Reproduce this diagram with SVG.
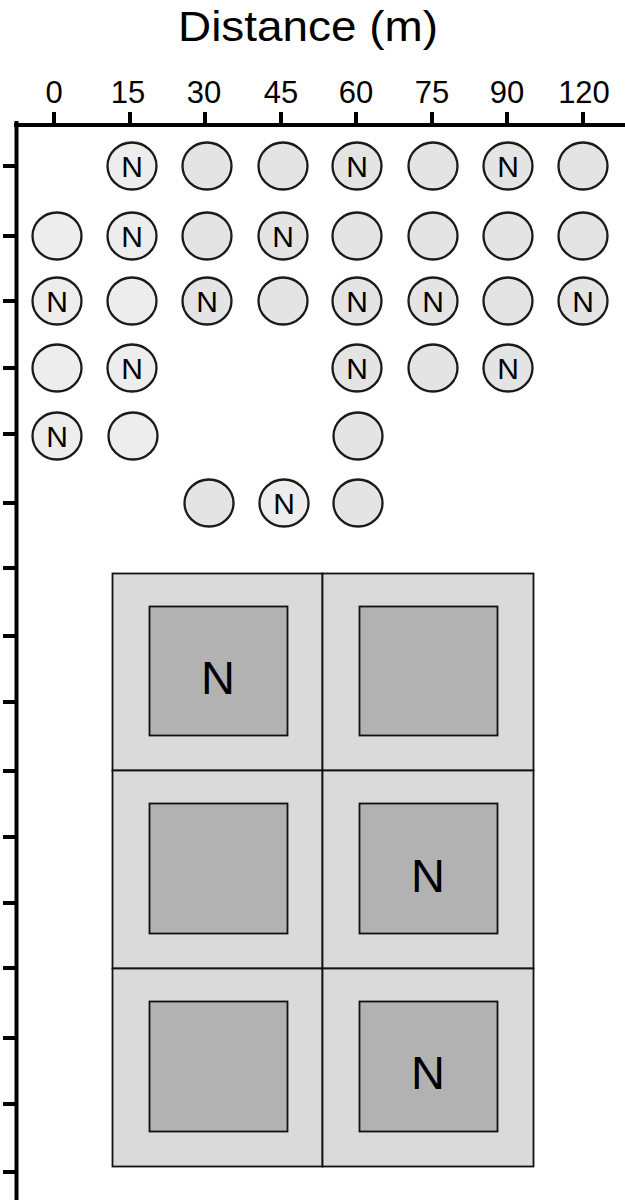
<svg xmlns="http://www.w3.org/2000/svg" width="625" height="1203" viewBox="0 0 625 1203">
  <style>
    .axis { stroke: #000; stroke-width: 4; fill: none; }
    .lbl { font-family: "Liberation Sans", Arial, sans-serif; fill: #000; text-anchor: middle; }
    .tick-lbl { font-size: 31px; }
    .tree { stroke: #1a1a1a; stroke-width: 2.3; }
    .tree-a { fill: #ededed; }
    .tree-b { fill: #e4e4e4; }
    .tree-n { font-size: 30px; }
    .cell { fill: #dadada; stroke: #111; stroke-width: 1.8; }
    .core { fill: #b2b2b2; stroke: #111; stroke-width: 1.8; }
    .core-n { font-size: 47px; }
  </style>
  <rect width="625" height="1203" fill="#fff"/>

  <!-- title -->
  <text class="lbl" x="308" y="41" font-size="42" textLength="260" lengthAdjust="spacingAndGlyphs">Distance (m)</text>

  <!-- axes -->
  <g id="axes">
    <line class="axis" x1="14" y1="125" x2="625" y2="125"/>
    <line class="axis" x1="16.5" y1="121" x2="16.5" y2="1200" stroke-width="4.5"/>
    <g id="x-ticks">
      <line class="axis" x1="54" y1="112" x2="54" y2="125"/>
      <line class="axis" x1="130" y1="112" x2="130" y2="125"/>
      <line class="axis" x1="205" y1="112" x2="205" y2="125"/>
      <line class="axis" x1="281" y1="112" x2="281" y2="125"/>
      <line class="axis" x1="356" y1="112" x2="356" y2="125"/>
      <line class="axis" x1="432" y1="112" x2="432" y2="125"/>
      <line class="axis" x1="507" y1="112" x2="507" y2="125"/>
      <line class="axis" x1="583" y1="112" x2="583" y2="125"/>
    </g>
    <g id="x-labels" class="lbl tick-lbl">
      <text x="54" y="103">0</text>
      <text x="128" y="103">15</text>
      <text x="204" y="103">30</text>
      <text x="281" y="103">45</text>
      <text x="356" y="103">60</text>
      <text x="432" y="103">75</text>
      <text x="507" y="103">90</text>
      <text x="584" y="103">120</text>
    </g>
    <g id="y-ticks">
      <line class="axis" x1="3" y1="166" x2="16" y2="166"/>
      <line class="axis" x1="3" y1="236" x2="16" y2="236"/>
      <line class="axis" x1="3" y1="301" x2="16" y2="301"/>
      <line class="axis" x1="3" y1="368" x2="16" y2="368"/>
      <line class="axis" x1="3" y1="434" x2="16" y2="434"/>
      <line class="axis" x1="3" y1="503" x2="16" y2="503"/>
      <line class="axis" x1="3" y1="568" x2="16" y2="568"/>
      <line class="axis" x1="3" y1="636" x2="16" y2="636"/>
      <line class="axis" x1="3" y1="702" x2="16" y2="702"/>
      <line class="axis" x1="3" y1="771" x2="16" y2="771"/>
      <line class="axis" x1="3" y1="837" x2="16" y2="837"/>
      <line class="axis" x1="3" y1="903" x2="16" y2="903"/>
      <line class="axis" x1="3" y1="968" x2="16" y2="968"/>
      <line class="axis" x1="3" y1="1038" x2="16" y2="1038"/>
      <line class="axis" x1="3" y1="1104" x2="16" y2="1104"/>
      <line class="axis" x1="3" y1="1172" x2="16" y2="1172"/>
    </g>
  </g>

  <!-- individual trees: columns at 0,15,30,45,60,75,90,120 m -->
  <g id="trees">
    <!-- row 1 -->
    <g id="t-r1-15"><ellipse class="tree tree-a" cx="132" cy="166" rx="24.5" ry="23.5"/><text class="lbl tree-n" x="132" y="177">N</text></g>
    <g id="t-r1-30"><ellipse class="tree tree-b" cx="207" cy="166" rx="24.5" ry="23.5"/></g>
    <g id="t-r1-45"><ellipse class="tree tree-b" cx="283" cy="166" rx="24.5" ry="23.5"/></g>
    <g id="t-r1-60"><ellipse class="tree tree-b" cx="357" cy="166" rx="24.5" ry="23.5"/><text class="lbl tree-n" x="357" y="177">N</text></g>
    <g id="t-r1-75"><ellipse class="tree tree-b" cx="433" cy="166" rx="24.5" ry="23.5"/></g>
    <g id="t-r1-90"><ellipse class="tree tree-b" cx="508" cy="166" rx="24.5" ry="23.5"/><text class="lbl tree-n" x="508" y="177">N</text></g>
    <g id="t-r1-120"><ellipse class="tree tree-b" cx="583" cy="166" rx="24.5" ry="23.5"/></g>
    <!-- row 2 -->
    <g id="t-r2-0"><ellipse class="tree tree-a" cx="57" cy="236" rx="24.5" ry="23.5"/></g>
    <g id="t-r2-15"><ellipse class="tree tree-a" cx="132" cy="236" rx="24.5" ry="23.5"/><text class="lbl tree-n" x="132" y="247">N</text></g>
    <g id="t-r2-30"><ellipse class="tree tree-b" cx="207" cy="236" rx="24.5" ry="23.5"/></g>
    <g id="t-r2-45"><ellipse class="tree tree-b" cx="283" cy="236" rx="24.5" ry="23.5"/><text class="lbl tree-n" x="283" y="247">N</text></g>
    <g id="t-r2-60"><ellipse class="tree tree-b" cx="357" cy="236" rx="24.5" ry="23.5"/></g>
    <g id="t-r2-75"><ellipse class="tree tree-b" cx="433" cy="236" rx="24.5" ry="23.5"/></g>
    <g id="t-r2-90"><ellipse class="tree tree-b" cx="508" cy="236" rx="24.5" ry="23.5"/></g>
    <g id="t-r2-120"><ellipse class="tree tree-b" cx="583" cy="236" rx="24.5" ry="23.5"/></g>
    <!-- row 3 -->
    <g id="t-r3-0"><ellipse class="tree tree-a" cx="57" cy="301" rx="24.5" ry="23.5"/><text class="lbl tree-n" x="57" y="312">N</text></g>
    <g id="t-r3-15"><ellipse class="tree tree-a" cx="132" cy="301" rx="24.5" ry="23.5"/></g>
    <g id="t-r3-30"><ellipse class="tree tree-b" cx="207" cy="301" rx="24.5" ry="23.5"/><text class="lbl tree-n" x="207" y="312">N</text></g>
    <g id="t-r3-45"><ellipse class="tree tree-b" cx="283" cy="301" rx="24.5" ry="23.5"/></g>
    <g id="t-r3-60"><ellipse class="tree tree-b" cx="357" cy="301" rx="24.5" ry="23.5"/><text class="lbl tree-n" x="357" y="312">N</text></g>
    <g id="t-r3-75"><ellipse class="tree tree-b" cx="433" cy="301" rx="24.5" ry="23.5"/><text class="lbl tree-n" x="433" y="312">N</text></g>
    <g id="t-r3-90"><ellipse class="tree tree-b" cx="508" cy="301" rx="24.5" ry="23.5"/></g>
    <g id="t-r3-120"><ellipse class="tree tree-b" cx="583" cy="301" rx="24.5" ry="23.5"/><text class="lbl tree-n" x="583" y="312">N</text></g>
    <!-- row 4 -->
    <g id="t-r4-0"><ellipse class="tree tree-a" cx="57" cy="368" rx="24.5" ry="23.5"/></g>
    <g id="t-r4-15"><ellipse class="tree tree-a" cx="132" cy="368" rx="24.5" ry="23.5"/><text class="lbl tree-n" x="132" y="379">N</text></g>
    <g id="t-r4-60"><ellipse class="tree tree-b" cx="357" cy="368" rx="24.5" ry="23.5"/><text class="lbl tree-n" x="357" y="379">N</text></g>
    <g id="t-r4-75"><ellipse class="tree tree-b" cx="433" cy="368" rx="24.5" ry="23.5"/></g>
    <g id="t-r4-90"><ellipse class="tree tree-b" cx="508" cy="368" rx="24.5" ry="23.5"/><text class="lbl tree-n" x="508" y="379">N</text></g>
    <!-- row 5 -->
    <g id="t-r5-0"><ellipse class="tree tree-a" cx="57" cy="436" rx="24.5" ry="23.5"/><text class="lbl tree-n" x="57" y="447">N</text></g>
    <g id="t-r5-15"><ellipse class="tree tree-a" cx="133" cy="436" rx="24.5" ry="23.5"/></g>
    <g id="t-r5-60"><ellipse class="tree tree-b" cx="358" cy="436" rx="24.5" ry="23.5"/></g>
    <!-- row 6 -->
    <g id="t-r6-30"><ellipse class="tree tree-b" cx="209" cy="503" rx="24.5" ry="23.5"/></g>
    <g id="t-r6-45"><ellipse class="tree tree-a" cx="284" cy="503" rx="24.5" ry="23.5"/><text class="lbl tree-n" x="284" y="514">N</text></g>
    <g id="t-r6-60"><ellipse class="tree tree-b" cx="358" cy="503" rx="24.5" ry="23.5"/></g>
  </g>

  <!-- plots: outer buffer with inner core -->
  <g id="plots">
    <g id="plot-1-1">
      <rect class="cell" x="112.5" y="573.5" width="210" height="197"/>
      <rect class="core" x="149.5" y="606.5" width="138" height="129"/>
      <text class="lbl core-n" x="218" y="694">N</text>
    </g>
    <g id="plot-1-2">
      <rect class="cell" x="322.5" y="573.5" width="211" height="197"/>
      <rect class="core" x="359.5" y="606.5" width="138" height="129"/>
    </g>
    <g id="plot-2-1">
      <rect class="cell" x="112.5" y="770.5" width="210" height="198"/>
      <rect class="core" x="149.5" y="803.5" width="138" height="130"/>
    </g>
    <g id="plot-2-2">
      <rect class="cell" x="322.5" y="770.5" width="211" height="198"/>
      <rect class="core" x="359.5" y="803.5" width="138" height="130"/>
      <text class="lbl core-n" x="428" y="892">N</text>
    </g>
    <g id="plot-3-1">
      <rect class="cell" x="112.5" y="968.5" width="210" height="198"/>
      <rect class="core" x="149.5" y="1001.5" width="138" height="130"/>
    </g>
    <g id="plot-3-2">
      <rect class="cell" x="322.5" y="968.5" width="211" height="198"/>
      <rect class="core" x="359.5" y="1001.5" width="138" height="130"/>
      <text class="lbl core-n" x="428" y="1089">N</text>
    </g>
  </g>
</svg>
